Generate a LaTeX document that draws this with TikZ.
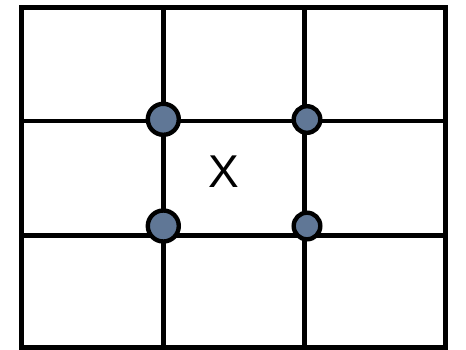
\documentclass[tikz,border=0pt]{standalone}
\usepackage{fontspec}
\setmainfont{Liberation Sans}
\definecolor{dotfill}{RGB}{96,119,150}
\begin{document}
\begin{tikzpicture}[x=1pt,y=-1pt,
  gridline/.style={line width=4.7pt,line cap=rect},
  bigdot/.style={circle,draw=black,line width=4.4pt,fill=dotfill,inner sep=0pt,minimum size=31pt},
  smalldot/.style={circle,draw=black,line width=4.4pt,fill=dotfill,inner sep=0pt,minimum size=26.6pt},
  label/.style={font=\fontsize{46}{46}\selectfont,inner sep=0pt}]
\useasboundingbox (0,0) rectangle (466,349);
\fill[white] (0,0) rectangle (466,349);
% outer frame
\draw[line width=5pt] (21,7.5) rectangle (445.8,347.5);
% inner grid lines
\draw[gridline,line cap=butt] (163.3,7.5) -- (163.3,347.5);
\draw[gridline,line cap=butt] (304.7,7.5) -- (304.7,347.5);
\draw[gridline,line cap=butt] (21,121) -- (445.8,121);
\draw[gridline,line cap=butt] (21,235.5) -- (445.8,235.5);
% dots
\node[bigdot] (tl) at (163.3,119.3) {};
\node[smalldot] (tr) at (307,119.5) {};
\node[bigdot] (bl) at (163.3,226) {};
\node[smalldot] (br) at (307,226) {};
% label
\node[label] (x) at (224,171.5) {X};
\end{tikzpicture}
\end{document}
